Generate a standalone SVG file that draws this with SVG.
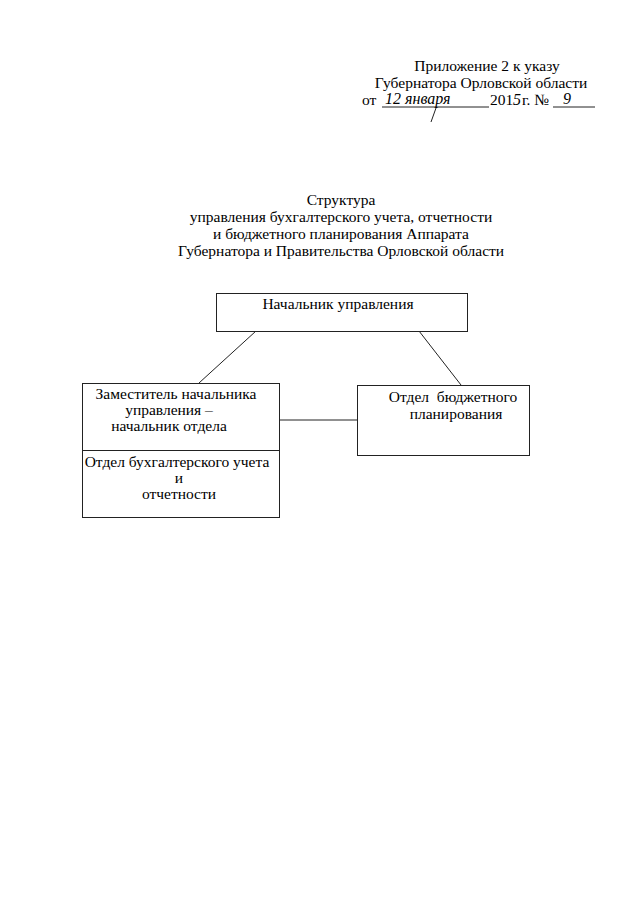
<svg xmlns="http://www.w3.org/2000/svg" width="640" height="905" viewBox="0 0 640 905">
<style>
text{font-family:"Liberation Serif","Times New Roman",serif;font-size:15.5px;fill:#000}
.c{text-anchor:middle}
.hd{font-size:15.5px}
.h{font-family:"Liberation Serif",serif;font-style:italic;font-size:16px}
.box{fill:#fff;stroke:#222;stroke-width:1}
.ln{stroke:#222;stroke-width:1;fill:none}
</style>
<rect width="640" height="905" fill="#fff"/>
<g id="header">
<text x="487" y="71" class="c hd">Приложение 2 к указу</text>
<text x="481" y="88" class="c hd">Губернатора Орловской области</text>
<text x="362" y="105" class="hd">от</text>
<line x1="382" y1="107" x2="489" y2="107" class="ln"/>
<text x="385" y="104" class="h">12 января</text>
<line x1="436" y1="108" x2="431" y2="122" class="ln"/>
<text x="490" y="105" class="hd">201</text>
<text x="513" y="105" class="h">5</text>
<text x="522" y="105" class="hd">г. №</text>
<line x1="553" y1="107" x2="595" y2="107" class="ln"/>
<text x="563" y="104" class="h">9</text>
</g>
<g id="title">
<text x="341" y="205" class="c">Структура</text>
<text x="341" y="222" class="c">управления бухгалтерского учета, отчетности</text>
<text x="341" y="239" class="c">и бюджетного планирования Аппарата</text>
<text x="341" y="256" class="c">Губернатора и Правительства Орловской области</text>
</g>
<g id="connectors">
<line x1="256" y1="331" x2="199" y2="383" class="ln"/>
<line x1="419" y1="331" x2="461" y2="385" class="ln"/>
<line x1="279" y1="420" x2="357" y2="420" class="ln"/>
</g>
<g id="head">
<rect x="216.5" y="293.5" width="251" height="38" class="box"/>
<text x="338" y="309" class="c">Начальник управления</text>
</g>
<g id="deputy">
<rect x="82.5" y="383.5" width="197" height="67" class="box"/>
<text x="176" y="399" class="c">Заместитель начальника</text>
<text x="169" y="415" class="c">управления –</text>
<text x="169" y="431" class="c">начальник отдела</text>
</g>
<g id="accounting">
<rect x="82.5" y="450.5" width="197" height="67" class="box"/>
<text x="177" y="467" class="c">Отдел бухгалтерского учета</text>
<text x="179" y="483" class="c">и</text>
<text x="179" y="499" class="c">отчетности</text>
</g>
<g id="budget">
<rect x="357.5" y="385.5" width="172" height="70" class="box"/>
<text x="453" y="402" class="c" xml:space="preserve">Отдел  бюджетного</text>
<text x="456" y="419" class="c">планирования</text>
</g>
</svg>
